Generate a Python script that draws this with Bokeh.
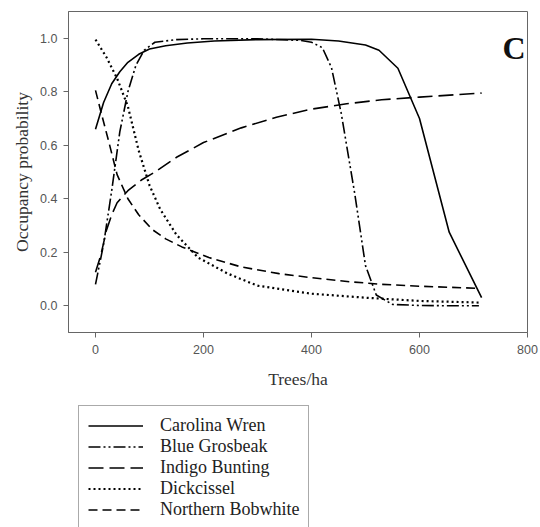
from bokeh.plotting import figure
from bokeh.layouts import column
from bokeh.models import Range1d, FixedTicker, PrintfTickFormatter, Legend, LegendItem, Label
from bokeh.embed import file_html
from bokeh.resources import INLINE

# ---- data ----
wren_x = [0, 15, 30, 45, 60, 80, 100, 130, 170, 220, 300, 400, 450, 500, 525, 560, 600, 655, 715]
wren_y = [0.66, 0.76, 0.83, 0.875, 0.91, 0.94, 0.96, 0.972, 0.982, 0.99, 0.995, 0.996, 0.99, 0.975, 0.955, 0.888, 0.70, 0.275, 0.03]

grosbeak_x = [0, 15, 30, 45, 60, 75, 90, 110, 150, 200, 300, 380, 400, 420, 437, 455, 480, 500, 520, 550, 600, 650, 710]
grosbeak_y = [0.08, 0.23, 0.43, 0.65, 0.80, 0.90, 0.955, 0.985, 0.995, 0.998, 0.998, 0.992, 0.985, 0.965, 0.89, 0.72, 0.42, 0.15, 0.04, 0.005, 0.001, 0.0, 0.0]

indigo_x = [0, 10, 20, 30, 40, 60, 85, 110, 150, 200, 270, 335, 400, 465, 530, 600, 715]
indigo_y = [0.125, 0.19, 0.28, 0.34, 0.385, 0.43, 0.47, 0.50, 0.555, 0.61, 0.665, 0.705, 0.735, 0.755, 0.77, 0.78, 0.795]

dick_x = [0, 20, 40, 60, 80, 100, 120, 150, 190, 245, 300, 400, 500, 600, 710]
dick_y = [0.995, 0.93, 0.85, 0.745, 0.58, 0.45, 0.36, 0.265, 0.18, 0.12, 0.075, 0.045, 0.03, 0.018, 0.012]

bob_x = [0, 12, 25, 40, 60, 80, 105, 130, 160, 210, 270, 340, 400, 470, 530, 600, 710]
bob_y = [0.805, 0.71, 0.61, 0.49, 0.40, 0.34, 0.285, 0.25, 0.22, 0.18, 0.145, 0.12, 0.105, 0.09, 0.08, 0.073, 0.065]

species = ["Carolina Wren", "Blue Grosbeak", "Indigo Bunting", "Dickcissel", "Northern Bobwhite"]
x_ticks = [0, 200, 400, 600, 800]
y_ticks = [0.0, 0.2, 0.4, 0.6, 0.8, 1.0]

styles = [
    dict(line_color="black", line_width=1.6),
    dict(line_color="black", line_width=1.6, line_dash="12 3 2 3 2 3"),
    dict(line_color="black", line_width=1.6, line_dash="15 6"),
    dict(line_color="black", line_width=2.2, line_dash="2 3"),
    dict(line_color="black", line_width=1.6, line_dash="9 5"),
]
series = [(wren_x, wren_y), (grosbeak_x, grosbeak_y), (indigo_x, indigo_y), (dick_x, dick_y), (bob_x, bob_y)]

# ---- main chart ----
p = figure(width=540, height=395, output_backend="svg", toolbar_location=None,
           x_range=Range1d(-50, 800), y_range=Range1d(-0.1, 1.1),
           min_border_left=68, min_border_right=13, min_border_top=11, min_border_bottom=63)
p.grid.visible = False
p.outline_line_color = "#666666"
p.outline_line_width = 1
p.background_fill_color = "white"
p.border_fill_color = "white"

for ax in (p.xaxis[0], p.yaxis[0]):
    ax.axis_line_color = "#666666"
    ax.major_tick_line_color = "#666666"
    ax.major_tick_out = 5
    ax.major_tick_in = 0
    ax.minor_tick_line_color = None
    ax.major_label_text_font = "Liberation Sans"
    ax.major_label_text_font_size = "12.5px"
    ax.major_label_text_color = "#555555"
    ax.axis_label_text_font = "Liberation Serif"
    ax.axis_label_text_font_size = "17.5px"
    ax.axis_label_text_font_style = "normal"
    ax.axis_label_text_color = "#333333"

p.xaxis.ticker = FixedTicker(ticks=x_ticks)
p.yaxis.ticker = FixedTicker(ticks=y_ticks)
p.yaxis.formatter = PrintfTickFormatter(format="%.1f")
p.xaxis.major_label_standoff = 7
p.yaxis.major_label_standoff = 6
p.xaxis.axis_label = "Trees/ha"
p.yaxis.axis_label = "Occupancy probability"
p.xaxis.axis_label_standoff = 12
p.yaxis.axis_label_standoff = 5

for (xs, ys), st in zip(series, styles):
    p.line(xs, ys, **st)

p.add_layout(Label(x=775, y=0.964, text="C", text_font="Liberation Serif", text_font_size="32px",
                   text_font_style="bold", text_align="center", text_baseline="middle", text_color="#111111"))

# ---- legend panel below (same series as legend proxies, kept out of view) ----
q = figure(width=540, height=132, output_backend="svg", toolbar_location=None,
           x_axis_type=None, y_axis_type=None, x_range=Range1d(-2000, -1999), y_range=Range1d(-2000, -1999),
           min_border_left=61, min_border_right=0, min_border_top=0, min_border_bottom=0)
q.grid.visible = False
q.outline_line_color = None
q.background_fill_color = "white"
q.border_fill_color = "white"

proxies = [q.line(xs, ys, **st) for (xs, ys), st in zip(series, styles)]
legend = Legend(items=[LegendItem(label=s, renderers=[r]) for s, r in zip(species, proxies)],
                location="top_left")
legend.label_text_font = "Liberation Serif"
legend.label_text_font_size = "18px"
legend.label_text_color = "#222222"
legend.label_height = 19
legend.glyph_height = 19
legend.glyph_width = 55
legend.label_standoff = 17
legend.spacing = 0
legend.padding = 9
legend.margin = 10
legend.border_line_color = "#555555"
legend.border_line_width = 1
legend.background_fill_color = "white"
legend.background_fill_alpha = 1
try:
    legend.title = " "
    legend.title_location = "below"
    legend.title_standoff = 8
    legend.title_text_font_size = "18px"
except Exception:
    pass
q.add_layout(legend, "center")

layout = column(p, q, spacing=0)
open("out.html", "w").write(file_html(layout, INLINE))
